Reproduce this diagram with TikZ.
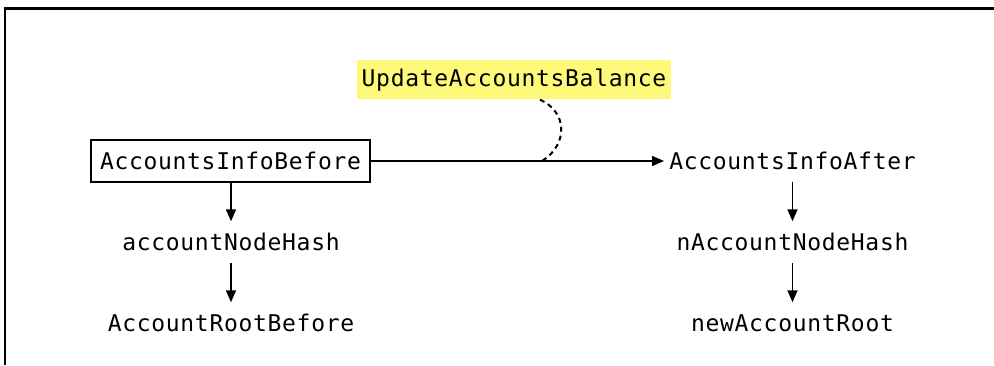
\documentclass[tikz,border=0pt]{standalone}
\usepackage{fontspec,xcolor}
\newfontfamily\codefont[LetterSpace=3]{DejaVu Sans Mono}
\definecolor{hlyellow}{RGB}{255,249,122}
\usetikzlibrary{arrows.meta,positioning}

\begin{document}
\begin{tikzpicture}[x=1pt, y=1pt,
    lbl/.style={rectangle, minimum height=41pt, inner xsep=5pt, inner ysep=0pt,
                align=center, font=\codefont\fontsize{23}{27}\selectfont},
    boxed/.style={lbl, draw, line width=1.6pt, minimum height=42pt, inner xsep=9pt},
    marker/.style={lbl, fill=hlyellow, minimum height=39pt},
    flow/.style={-{Triangle[length=12pt,width=10pt]}, line width=1.6pt},
    link/.style={dashed, dash pattern=on 5pt off 4pt, line width=2pt}
  ]
    \useasboundingbox (0,0) rectangle (994,365);

    % Frame (cut off right and bottom)
    \draw[line width=2.2pt] (5,0) -- (5,356.5) -- (994,356.5);

    % Top row
    \node[boxed]  (before) at (230.5,204) {AccountsInfoBefore};
    \node[lbl]    (after)  at (792.5,204) {AccountsInfoAfter};
    \node[marker] (update) at (514,285)   {UpdateAccountsBalance};

    % Left column
    \node[lbl] (hashBefore) at (231,123) {accountNodeHash};
    \node[lbl] (rootBefore) at (231,42)  {AccountRootBefore};

    % Right column
    \node[lbl] (hashAfter) at (792.5,123) {nAccountNodeHash};
    \node[lbl] (rootAfter) at (792.5,42)  {newAccountRoot};

    % Update step
    \draw[flow] (before) -- (after);
    \coordinate (merge) at (542,204);
    \draw[link] ([xshift=26pt]update.south) .. controls (568,253) and (568,220) .. (merge);

    % Hashes and roots
    \draw[flow] (before.south -| hashBefore) -- (hashBefore);
    \draw[flow] (hashBefore) -- (rootBefore);
    \draw[flow] (after) -- (hashAfter);
    \draw[flow] (hashAfter) -- (rootAfter);
  \end{tikzpicture}
\end{document}
